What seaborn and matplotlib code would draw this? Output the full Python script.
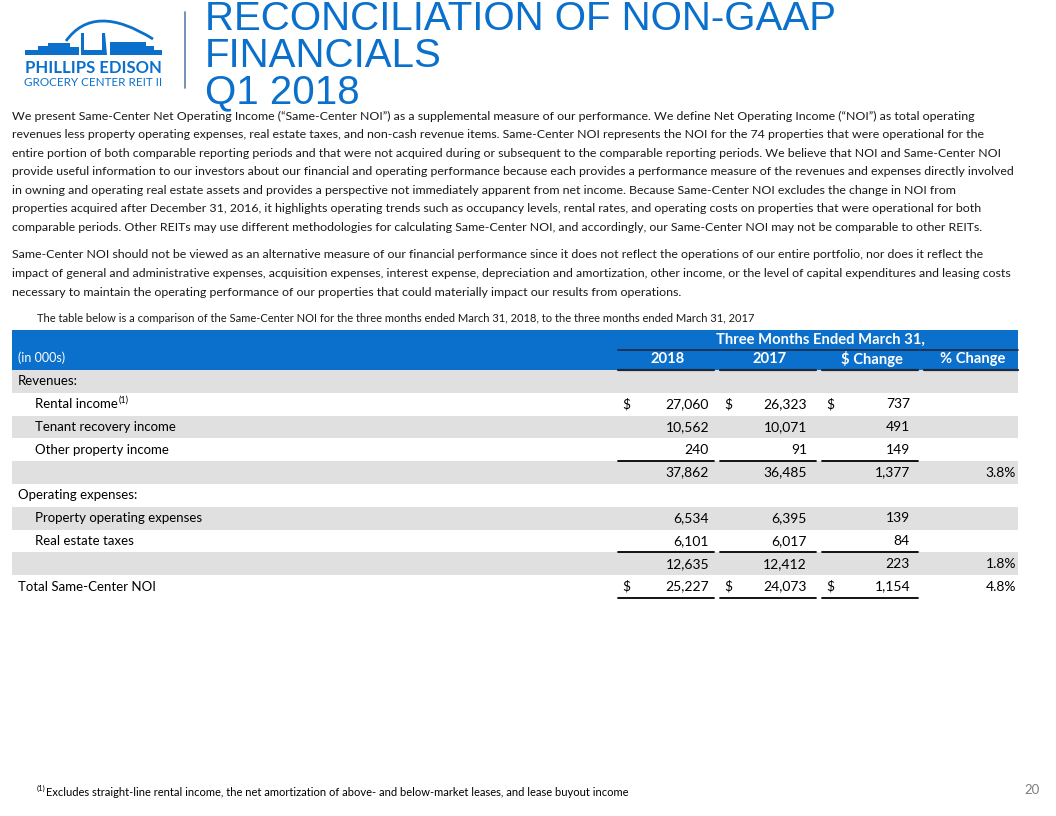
import numpy as np
import pandas as pd
import matplotlib as mpl
import matplotlib.pyplot as plt
import seaborn as sns
from matplotlib.colors import ListedColormap
from matplotlib.patches import Rectangle, Polygon, PathPatch
from matplotlib.path import Path

# ---- data ----
row_labels = ["Revenues:", "Rental income", "Tenant recovery income", "Other property income", "",
              "Operating expenses:", "Property operating expenses", "Real estate taxes", "",
              "Total Same-Center NOI"]
row_indent = [0, 1, 1, 1, 0, 0, 1, 1, 0, 0]
val_2018 = [None, 27060, 10562, 240, 37862, None, 6534, 6101, 12635, 25227]
val_2017 = [None, 26323, 10071, 91, 36485, None, 6395, 6017, 12412, 24073]
val_change = [None, 737, 491, 149, 1377, None, 139, 84, 223, 1154]
pct_change = [None, None, None, None, 3.8, None, None, None, 1.8, 4.8]
dollar_rows = [1, 9]
underline_rows = [3, 7, 9]
col_headers = ["2018", "2017", "$ Change", "% Change"]

title_lines = ["RECONCILIATION OF NON-GAAP", "FINANCIALS", "Q1 2018"]
para1 = [
    "We present Same-Center Net Operating Income (\u201cSame-Center NOI\u201d) as a supplemental measure of our performance. We define Net Operating Income (\u201cNOI\u201d) as total operating",
    "revenues less property operating expenses, real estate taxes, and non-cash revenue items. Same-Center NOI represents the NOI for the 74 properties that were operational for the",
    "entire portion of both comparable reporting periods and that were not acquired during or subsequent to the comparable reporting periods. We believe that NOI and Same-Center NOI",
    "provide useful information to our investors about our financial and operating performance because each provides a performance measure of the revenues and expenses directly involved",
    "in owning and operating real estate assets and provides a perspective not immediately apparent from net income. Because Same-Center NOI excludes the change in NOI from",
    "properties acquired after December 31, 2016, it highlights operating trends such as occupancy levels, rental rates, and operating costs on properties that were operational for both",
    "comparable periods. Other REITs may use different methodologies for calculating Same-Center NOI, and accordingly, our Same-Center NOI may not be comparable to other REITs.",
]
para2 = [
    "Same-Center NOI should not be viewed as an alternative measure of our financial performance since it does not reflect the operations of our entire portfolio, nor does it reflect the",
    "impact of general and administrative expenses, acquisition expenses, interest expense, depreciation and amortization, other income, or the level of capital expenditures and leasing costs",
    "necessary to maintain the operating performance of our properties that could materially impact our results from operations.",
]
caption = "The table below is a comparison of the Same-Center NOI for the three months ended March 31, 2018, to the three months ended March 31, 2017"
footnote = "Excludes straight-line rental income, the net amortization of above- and below-market leases, and lease buyout income"

BLUE = "#0a70cc"
GRAY = "#e0e0e0"
NAVY = "#1b2840"
BODY = "Lato"

sns.set_theme(style="white")
plt.rcParams['font.family'] = [BODY, 'DejaVu Sans']

fig = plt.figure(figsize=(10.56, 8.16), dpi=100)

# striped table body via seaborn heatmap
W, H = 1056, 816
top, row_h = 370, 22.8
n = len(row_labels)
stripes = pd.DataFrame({"band": [(i + 1) % 2 for i in range(n)]})
hax = fig.add_axes([12 / W, 1 - (top + n * row_h) / H, 1006 / W, n * row_h / H])
sns.heatmap(stripes, cmap=ListedColormap(["white", GRAY]), vmin=0, vmax=1, cbar=False, ax=hax)
hax.axis("off")

ax = fig.add_axes([0, 0, 1, 1])
ax.set_xlim(0, W)
ax.set_ylim(H, 0)
ax.axis("off")
ax.patch.set_alpha(0)
fig.canvas.draw()
rend = fig.canvas.get_renderer()

# logo
ax.add_patch(Polygon([(25, 55), (25, 50), (38, 50), (38, 46), (48, 46), (48, 43), (70, 43), (70, 47),
                      (79, 47), (79, 55)], closed=True, color=BLUE, lw=0))
ax.add_patch(Polygon([(81, 33), (84, 33), (84, 50), (102, 50), (102, 33), (105, 33), (107, 55),
                      (81, 55)], closed=True, color=BLUE, lw=0))
ax.add_patch(Polygon([(110, 55), (110, 42), (146, 42), (146, 46), (154, 46), (154, 50), (162, 50),
                      (162, 55)], closed=True, color=BLUE, lw=0))
arc = Path([(66, 41), (94, 2), (153, 39)], [Path.MOVETO, Path.CURVE3, Path.CURVE3])
ax.add_patch(PathPatch(arc, fc="none", ec=BLUE, lw=2))
ax.text(93, 68, "PHILLIPS EDISON", color=BLUE, fontsize=12, fontweight="bold", ha="center", va="center")
ax.text(93, 82, "GROCERY CENTER REIT II", color=BLUE, fontsize=8.4, ha="center", va="center")
ax.plot([185, 185], [12, 88], color="#5b7fa8", lw=1.2)

# title
for line, yb in zip(title_lines, [30, 67, 103]):
    ax.text(205, yb, line, color=BLUE, fontsize=29, family="Liberation Sans", va="baseline", ha="left")

# paragraphs: size so the widest line spans the slide body (12 -> ~1016 px)
probe = [ax.text(0, 0, s, fontsize=10) for s in para1 + para2]
widest = max(t.get_window_extent(rend).width for t in probe)
for t in probe:
    t.remove()
body_fs = 10 * 1004 / widest
for i, line in enumerate(para1):
    ax.text(12, 116 + i * 18.6, line, fontsize=body_fs, color="#1a1a1a", va="center")
for i, line in enumerate(para2):
    ax.text(12, 255 + i * 18.6, line, fontsize=body_fs, color="#1a1a1a", va="center")
ax.text(37, 318, caption, fontsize=8.0, color="#1a1a1a", va="center")

# table header
ax.add_patch(Rectangle((12, 330), 1006, 40, color=BLUE, lw=0))
ax.text(820, 340, "Three Months Ended March 31,", color="white", fontsize=10.6, fontweight="bold",
        ha="center", va="center")
ax.plot([618, 1018], [350, 350], color=NAVY, lw=1.2)
ax.text(18, 358, "(in 000s)", color="white", fontsize=9, va="center")
segs = [(618, 714), (720, 816), (822, 918), (924, 1018)]
for (x0, x1), hdr in zip(segs, col_headers):
    ax.text((x0 + x1) / 2 + 2, 359, hdr, color="white", fontsize=10.6, fontweight="bold", ha="center", va="center")
    ax.plot([x0, x1], [369.5, 369.5], color=NAVY, lw=1.6)

# table rows
rights = [709, 807, 910, 1016]
dollar_x = [622, 724, 826]
for i, lab in enumerate(row_labels):
    yc = top + row_h * (i + 0.5)
    tx = ax.text(35 if row_indent[i] else 18, yc, lab, fontsize=9.5, color="black", va="center")
    if lab == "Rental income":
        bb = tx.get_window_extent(rend)
        ax.text(bb.x1 + 1, yc - 4, "(1)", fontsize=6.5, color="black", va="center")
    for j, vals in enumerate([val_2018, val_2017, val_change]):
        if vals[i] is not None:
            ax.text(rights[j], yc, f"{vals[i]:,}", fontsize=10, color="black", ha="right", va="center")
            if i in dollar_rows:
                ax.text(dollar_x[j], yc, "$", fontsize=10, color="black", ha="left", va="center")
    if pct_change[i] is not None:
        ax.text(rights[3], yc, f"{pct_change[i]:.1f}%", fontsize=10, color="black", ha="right", va="center")
    if i in underline_rows:
        yb = top + row_h * (i + 1) - 0.5
        for x0, x1 in segs[:3]:
            ax.plot([x0, x1], [yb, yb], color="black", lw=1.3)

# footnote and page number
ft = ax.text(37, 788, "(1)", fontsize=5.5, color="black", va="center")
bb = ft.get_window_extent(rend)
ax.text(bb.x1 + 0.5, 792, footnote, fontsize=8.0, color="black", va="center")
ax.text(1040, 790, "20", fontsize=9.5, color="#7f7f7f", ha="right", va="center")

fig.savefig("out.png", dpi=100)
